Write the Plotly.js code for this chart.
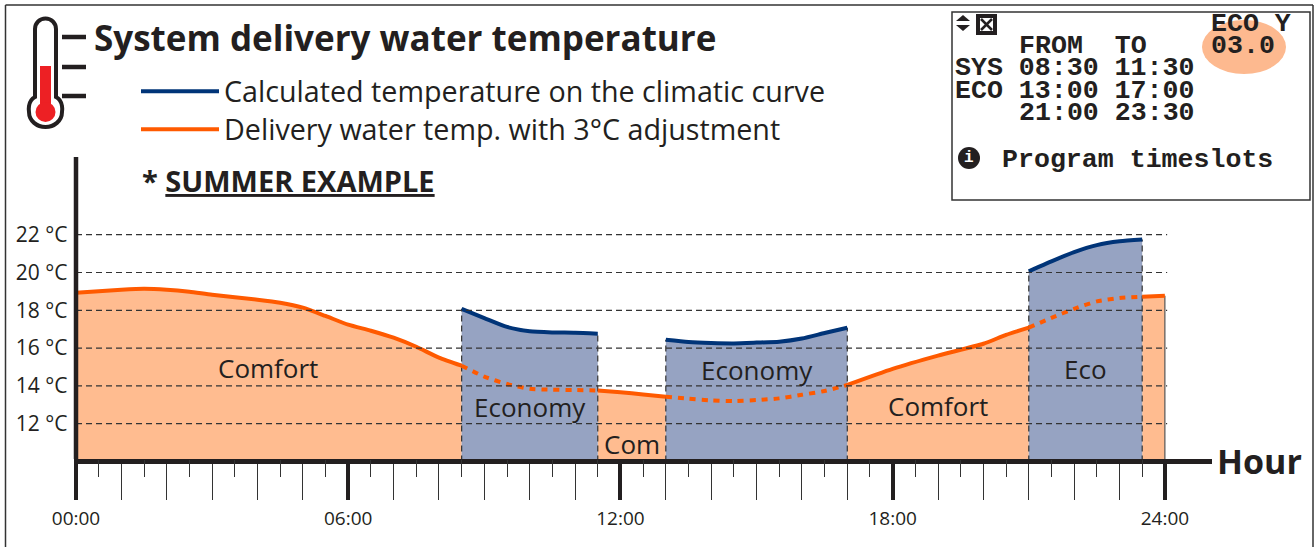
<!DOCTYPE html>
<html>
<head>
<meta charset="utf-8">
<script src="https://cdn.plot.ly/plotly-3.0.1.min.js"></script>
<style>html,body{margin:0;padding:0;background:#fff;overflow:hidden}#c{width:1316px;height:547px}</style>
</head>
<body>
<div id="c"></div>
<script>
// ---------- data ----------
const comfortHours1 = [0,1,1.5,2,2.5,3,4,4.5,5,5.5,6,6.5,7,7.5,8,8.5];
const comfortTemps1 = [18.93,19.09,19.14,19.09,18.98,18.82,18.56,18.4,18.14,17.7,17.24,16.92,16.55,16.07,15.5,15.07];
const dottedHours1 = [8.5,9,9.5,10,10.5,11,11.5];
const dottedTemps1 = [15.07,14.49,14.1,13.85,13.8,13.78,13.76];
const comfortHours2 = [11.5,12,12.5,13];
const comfortTemps2 = [13.76,13.66,13.55,13.43];
const dottedHours2 = [13,13.5,14,14.5,15,15.5,16,16.5,17];
const dottedTemps2 = [13.43,13.32,13.23,13.2,13.25,13.34,13.53,13.73,14.05];
const comfortHours3 = [17,18,19,20,20.5,21];
const comfortTemps3 = [14.05,14.9,15.6,16.23,16.7,17.08];
const dottedHours3 = [21,21.5,22,22.5,23,23.5];
const dottedTemps3 = [17.08,17.6,18.08,18.47,18.65,18.72];
const comfortHours4 = [23.5,24];
const comfortTemps4 = [18.72,18.77];
const calcHours1 = [8.5,9,9.5,10,10.5,11,11.5];
const calcTemps1 = [18.08,17.59,17.12,16.89,16.83,16.81,16.76];
const calcHours2 = [13,13.5,14,14.5,15,15.5,16,16.5,17];
const calcTemps2 = [16.44,16.32,16.27,16.25,16.29,16.34,16.51,16.8,17.08];
const calcHours3 = [21,21.5,22,22.5,23,23.5];
const calcTemps3 = [20.06,20.59,21.08,21.45,21.65,21.74];
const gridTemps = [12,14,16,18,20,22];
const yTickLabels = ['12 °C','14 °C','16 °C','18 °C','20 °C','22 °C'];
const majorHours = [0,6,12,18,24];
const majorLabels = ['00:00','06:00','12:00','18:00','24:00'];
const hourTicks = [1,2,3,4,5,7,8,9,10,11,13,14,15,16,17,19,20,21,22,23];
const halfTicks = [0.5,1.5,2.5,3.5,4.5,5.5,6.5,7.5,8.5,9.5,10.5,11.5,12.5,13.5,14.5,15.5,16.5,17.5,18.5,19.5,20.5,21.5,22.5,23.5];
const boundaryHours = [8.5,11.5,13,17,21,23.5];
const boundaryTemps = [18.08,16.76,16.44,17.08,20.06,21.74];
const zoneLabels = ['Comfort','Economy','Com','Economy','Comfort','Eco'];
const zoneHours = [4.23,10,12.25,15,19,22.25];
const zoneTemps = [14.95,12.9,10.9,14.85,12.95,14.91];
const panelLines = ['ECO Y','03.0','FROM  TO','SYS 08:30 11:30','ECO 13:00 17:00','21:00 23:30','Program timeslots'];

// ---------- style ----------
const ORANGE='#FF5A00', BLUE='#003478', ORFILL='#FFBC90', BLFILL='#96A3C2', INK='#231F20';
const SANS='"Open Sans", sans-serif', MONO='"Liberation Mono", monospace';
const W=1316, H=547;
const px=x=>x/W, py=y=>1-y/H;
const SPL={shape:'spline',smoothing:0.6};

const traces=[];
function fillT(x,y,c){traces.push({x,y,type:'scatter',mode:'lines',fill:'tozeroy',fillcolor:c,line:Object.assign({width:0},SPL),showlegend:false,hoverinfo:'skip'});}
function lineT(x,y,c,name,lg){traces.push({x,y,type:'scatter',mode:'lines',line:Object.assign({color:c,width:4},SPL),name:name||'',showlegend:!!name,legend:lg,hoverinfo:'skip'});}
const OR=[[comfortHours1,comfortTemps1],[comfortHours2,comfortTemps2],[comfortHours3,comfortTemps3],[comfortHours4,comfortTemps4]];
const BL=[[calcHours1,calcTemps1],[calcHours2,calcTemps2],[calcHours3,calcTemps3]];
OR.forEach(([x,y])=>fillT(x,y,ORFILL));
BL.forEach(([x,y])=>fillT(x,y,BLFILL));
gridTemps.forEach(t=>traces.push({x:[0,24.05],y:[t,t],xaxis:'x2',type:'scatter',mode:'lines',line:{color:'#333',width:1.2,dash:'6px,4px'},showlegend:false,hoverinfo:'skip'}));
boundaryHours.forEach((h,i)=>traces.push({x:[h,h],y:[10,boundaryTemps[i]],type:'scatter',mode:'lines',line:{color:'#333',width:1.2,dash:'6px,4px'},showlegend:false,hoverinfo:'skip'}));
traces.push({x:[24,24],y:[10,comfortTemps4[1]],type:'scatter',mode:'lines',line:{color:'#555',width:1.2},showlegend:false,hoverinfo:'skip'});
BL.forEach(([x,y],i)=>lineT(x,y,BLUE,i===0?'Calculated temperature on the climatic curve':'','legend'));
OR.forEach(([x,y],i)=>lineT(x,y,ORANGE,i===0?'Delivery water temp. with 3°C adjustment':'','legend2'));
[[dottedHours1,dottedTemps1],[dottedHours2,dottedTemps2],[dottedHours3,dottedTemps3]].forEach(([x,y])=>{
  traces.push({x,y,type:'scatter',mode:'lines',line:Object.assign({color:ORANGE,width:4,dash:'6px,6px'},SPL),showlegend:false,hoverinfo:'skip'});
});

// ---------- decoration shapes (page pixels) ----------
function P(cmds){return cmds.map(c=>c[0]+' '+c.slice(1).map((v,i)=>i%2?py(v):px(v)).join(' ')).join(' ');}
const pg={xref:'paper',yref:'paper'};
function rect(x0,y0,x1,y1,o){return Object.assign({type:'rect',x0:px(x0),x1:px(x1),y0:py(y0),y1:py(y1)},pg,o);}
function oval(cx,cy,rx,ry,o){return Object.assign({type:'circle',x0:px(cx-rx),x1:px(cx+rx),y0:py(cy-ry),y1:py(cy+ry)},pg,o);}
function seg(x0,y0,x1,y1,c,w){return Object.assign({type:'line',x0:px(x0),x1:px(x1),y0:py(y0),y1:py(y1),line:{color:c,width:w}},pg);}
const k=0.5523;
const thermo=P([['M',35,97],['L',35,29],['C',35,29-11*k,45.5-10.5*k,18.5,45.5,18.5],['C',45.5+10.5*k,18.5,56,29-11*k,56,29],['L',56,97],
  ['C',64,101,62,112,62,112],['C',62,121,54,127,45.5,127],['C',37,127,29,121,29,112],['C',29,112,27,101,35,97],['Z']]);
const PXH=45.37, PXT=18.9, X0=76, Y10=461.5, L=73.5, R=1212, T=157, B=459;
const shapes=[
  seg(5.5,5,1313,5,'#333',1.5), seg(5.5,5,5.5,547,'#333',1.5), seg(1313,5,1313,547,'#333',1.5),
  seg(X0,T,X0,B,INK,4.5),
  Object.assign({type:'path',path:thermo,line:{color:INK,width:4},fillcolor:'#fff'},pg),
  rect(40,66,51,108,{fillcolor:'#ED2024',line:{width:0}}),
  oval(45.5,112,10,10,{fillcolor:'#ED2024',line:{width:0}}),
  seg(62,37,86,37,INK,4.5), seg(62,67,86,67,INK,4.5), seg(62,96,86,96,INK,4.5),
  rect(952,12,1310,200,{fillcolor:'#fff',line:{color:'#333',width:1.5}}),
  oval(1244,47,42,27,{fillcolor:'#FDB98F',line:{width:0}}),
  Object.assign({type:'path',path:P([['M',963,15],['L',970,21],['L',956,21],['Z']]),fillcolor:INK,line:{width:0}},pg),
  Object.assign({type:'path',path:P([['M',963,31],['L',970,25],['L',956,25],['Z']]),fillcolor:INK,line:{width:0}},pg),
  rect(976,14,997,35,{fillcolor:INK,line:{width:0}}),
  rect(980,18,993,31,{fillcolor:'#fff',line:{width:0}}),
  seg(981,19,992,30,INK,2.5), seg(992,19,981,30,INK,2.5),
  oval(969,158,11,11,{fillcolor:INK,line:{width:0}})
];

// ---------- text ----------
function txt(text,x,y,size,o){return Object.assign({text,xref:'paper',yref:'paper',x:px(x),y:py(y),xanchor:'left',yanchor:'middle',showarrow:false,
  font:{family:SANS,size,color:INK}},o||{});}
const mono=(t,x,y)=>txt('<b>'+t+'</b>',x,y,26.6,{font:{family:MONO,size:26.6,color:INK}});
const annotations=[
  txt('<b>System delivery water temperature</b>',92,38,35),
  txt('<b>* <u>SUMMER EXAMPLE</u></b>',140,180,29),
  txt('<b>Hour</b>',1215,461,34),
  mono(panelLines[0],1209,24),
  mono(panelLines[1],1209,46),
  mono(panelLines[2],1017,46),
  mono(panelLines[3],953,68),
  mono(panelLines[4],953,91),
  mono(panelLines[5],1017,113),
  mono(panelLines[6],1000,160),
  txt('<b>i</b>',969,158,16,{xanchor:'center',font:{family:MONO,size:16,color:'#fff'}})
];
zoneLabels.forEach((t,i)=>annotations.push({text:t,x:zoneHours[i],y:zoneTemps[i],xref:'x',yref:'y',xanchor:'center',yanchor:'middle',showarrow:false,font:{family:SANS,size:26,color:INK}}));

const dom=[px(L),px(R)];
const xr=[(L-X0)/PXH,(R-X0)/PXH], yr=[10+(Y10-B)/PXT,10+(Y10-T)/PXT];
const legendBase={xanchor:'left',yanchor:'top',itemwidth:78,bgcolor:'rgba(0,0,0,0)',borderwidth:0,font:{family:SANS,size:28.7,color:INK},itemclick:false,itemdoubleclick:false};
const layout={
  width:W,height:H,margin:{l:0,r:0,t:0,b:0},paper_bgcolor:'#fff',plot_bgcolor:'rgba(0,0,0,0)',
  showlegend:true,hovermode:false,
  legend:Object.assign({x:px(136),y:py(66)},legendBase),
  legend2:Object.assign({x:px(136),y:py(104)},legendBase),
  xaxis:{domain:dom,range:xr,fixedrange:true,anchor:'y',showgrid:false,zeroline:false,showline:true,linecolor:INK,linewidth:5,
    tickmode:'array',tickvals:majorHours,ticktext:majorLabels,ticks:'outside',ticklen:36,tickwidth:4,tickcolor:INK,
    tickfont:{family:SANS,size:19,color:INK},ticklabelstandoff:2,
    minor:{tickmode:'array',tickvals:hourTicks,ticks:'outside',ticklen:36,tickwidth:1,tickcolor:'#333',showgrid:false}},
  xaxis2:{domain:dom,range:xr,fixedrange:true,overlaying:'x',anchor:'y',side:'bottom',showgrid:false,zeroline:false,showline:false,
    tickmode:'array',tickvals:halfTicks,ticktext:halfTicks.map(()=>''),ticks:'outside',ticklen:17,tickwidth:1,tickcolor:'#333'},
  yaxis:{domain:[py(B),py(T)],range:yr,fixedrange:true,showgrid:false,zeroline:false,showline:false,
    tickmode:'array',tickvals:gridTemps,ticktext:yTickLabels,ticks:'',tickfont:{family:SANS,size:21,color:INK},ticklabelstandoff:5},
  shapes,annotations
};
Plotly.newPlot('c',traces,layout,{displayModeBar:false,responsive:false});
</script>
</body>
</html>
